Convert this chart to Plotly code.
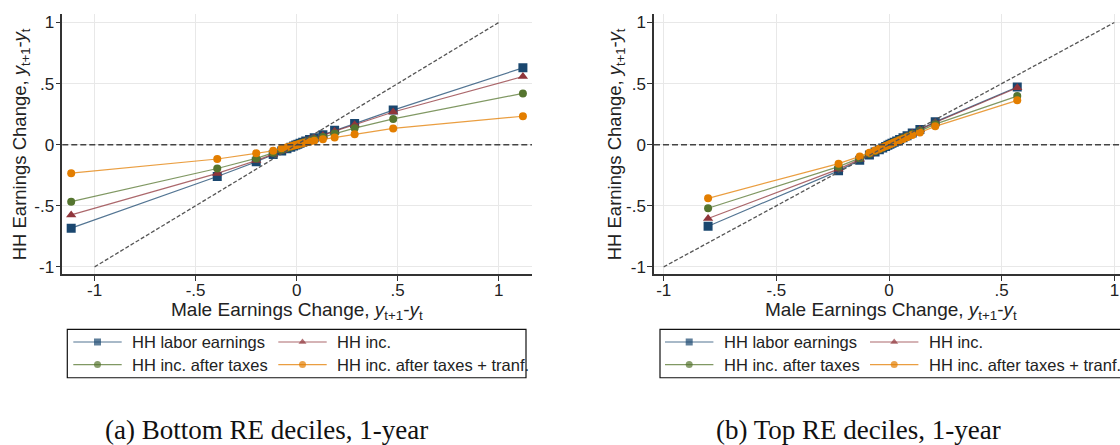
import plotly.graph_objects as go

W, H = 1120, 445

series_names = ["HH labor earnings", "HH inc.", "HH inc. after taxes", "HH inc. after taxes + tranf."]
series_colors = ["#1a476f", "#90353b", "#55752f", "#e37e00"]
series_lines = ["rgba(26,71,111,0.75)", "rgba(144,53,59,0.75)", "rgba(85,117,47,0.75)", "rgba(227,126,0,0.75)"]
series_symbols = ["square", "triangle-up", "circle", "circle"]
series_sizes = [9, 9, 8, 8]

# (a) Bottom RE deciles: binned male earnings change and household responses
male_change_bottom = [-1.116, -0.393, -0.200, -0.116, -0.074, -0.048, -0.029, -0.015, -0.004, 0.006,
                      0.017, 0.030, 0.045, 0.064, 0.087, 0.130, 0.188, 0.287, 0.478, 1.120]
labor_bottom = [-0.683, -0.260, -0.140, -0.080, -0.052, -0.034, -0.021, -0.011, -0.003, 0.004,
                0.012, 0.021, 0.031, 0.043, 0.056, 0.081, 0.119, 0.173, 0.283, 0.629]
inc_bottom = [-0.575, -0.235, -0.130, -0.076, -0.049, -0.032, -0.020, -0.010, -0.003, 0.004,
              0.011, 0.020, 0.029, 0.040, 0.053, 0.076, 0.111, 0.163, 0.268, 0.558]
tax_bottom = [-0.466, -0.195, -0.112, -0.066, -0.043, -0.028, -0.017, -0.009, -0.002, 0.003,
              0.009, 0.016, 0.024, 0.033, 0.044, 0.062, 0.091, 0.135, 0.211, 0.420]
transf_bottom = [-0.233, -0.117, -0.070, -0.050, -0.030, -0.020, -0.012, -0.006, -0.002, 0.002,
                 0.007, 0.012, 0.018, 0.025, 0.033, 0.044, 0.058, 0.085, 0.133, 0.233]

# (b) Top RE deciles
male_change_top = [-0.803, -0.224, -0.130, -0.087, -0.062, -0.043, -0.028, -0.015, -0.005, 0.004,
                   0.013, 0.023, 0.034, 0.047, 0.062, 0.080, 0.103, 0.137, 0.205, 0.569]
labor_top = [-0.667, -0.214, -0.128, -0.084, -0.059, -0.041, -0.027, -0.014, -0.005, 0.004,
             0.012, 0.021, 0.031, 0.043, 0.057, 0.074, 0.095, 0.125, 0.187, 0.472]
inc_top = [-0.604, -0.200, -0.120, -0.080, -0.057, -0.039, -0.026, -0.014, -0.005, 0.004,
           0.012, 0.021, 0.031, 0.043, 0.056, 0.072, 0.093, 0.122, 0.182, 0.466]
tax_top = [-0.520, -0.180, -0.110, -0.074, -0.053, -0.037, -0.024, -0.013, -0.004, 0.003,
           0.011, 0.019, 0.029, 0.040, 0.052, 0.068, 0.087, 0.115, 0.168, 0.398]
transf_top = [-0.439, -0.155, -0.096, -0.065, -0.047, -0.033, -0.021, -0.011, -0.004, 0.003,
              0.010, 0.017, 0.026, 0.036, 0.047, 0.061, 0.079, 0.100, 0.150, 0.363]

tick_vals = [-1, -0.5, 0, 0.5, 1]
tick_text = ["-1", "-.5", "0", ".5", "1"]
diag_x = [-1, 1]
diag_y = [-1, 1]

captions = ["(a) Bottom RE deciles, 1-year", "(b) Top RE deciles, 1-year"]
x_title = "Male Earnings Change, <i>y</i><sub>t+1</sub>-<i>y</i><sub>t</sub>"
y_title = "HH Earnings Change, <i>y</i><sub>t+1</sub>-<i>y</i><sub>t</sub>"

SANS = "Liberation Sans, Arial, sans-serif"
SERIF = "Liberation Serif, Times New Roman, serif"
TXT = "#222222"


def px_x(v):
    return v / W


def px_y(v):
    return 1 - v / H


panels = [
    dict(xa="x", ya="y", x=male_change_bottom,
         ys=[labor_bottom, inc_bottom, tax_bottom, transf_bottom],
         left=62.3, right=532.0, xrange=[-1.160, 1.165],
         ytitle_x=21, xtitle_x=297, caption_x=266,
         leg_box=(67.3, 526.0), leg_cols=(73.3, 278.3)),
    dict(xa="x2", ya="y2", x=male_change_top,
         ys=[labor_top, inc_top, tax_top, transf_top],
         left=654.0, right=1120.0, xrange=[-1.043, 1.025],
         ytitle_x=616, xtitle_x=891, caption_x=858,
         leg_box=(660.0, 1135.0), leg_cols=(665.0, 870.0)),
]

TOP, BOTTOM = 13.3, 275.3
YRANGE = [-1.062, 1.068]

fig = go.Figure()
shapes = []
annotations = []

for k, p in enumerate(panels):
    for i in range(4):
        fig.add_trace(go.Scatter(
            x=p["x"], y=p["ys"][i], mode="lines+markers",
            xaxis=p["xa"], yaxis=p["ya"], showlegend=False,
            line=dict(color=series_lines[i], width=1.2),
            marker=dict(symbol=series_symbols[i], size=series_sizes[i],
                        color=series_colors[i], line=dict(width=0)),
        ))
    # 45-degree reference line
    fig.add_trace(go.Scatter(
        x=diag_x, y=diag_y, mode="lines", xaxis=p["xa"], yaxis=p["ya"],
        showlegend=False, line=dict(color="#555555", width=1.3, dash="4px,2px"),
    ))
    # zero line across the whole plot area
    shapes.append(dict(type="line", xref=f"{p['xa']} domain", yref=p["ya"],
                       x0=0, x1=1, y0=0, y1=0,
                       line=dict(color="#444444", width=1.6, dash="6px,3px")))

    # axis titles
    annotations.append(dict(text=x_title, xref="paper", yref="paper",
                            x=px_x(p["xtitle_x"]), y=px_y(312.5), xanchor="center", yanchor="middle",
                            showarrow=False, font=dict(family=SANS, size=19, color=TXT)))
    annotations.append(dict(text=y_title, xref="paper", yref="paper", textangle=-90,
                            x=px_x(p["ytitle_x"]), y=px_y(144.3), xanchor="center", yanchor="middle",
                            showarrow=False, font=dict(family=SANS, size=18.5, color=TXT)))
    # caption
    annotations.append(dict(text=captions[k], xref="paper", yref="paper",
                            x=px_x(p["caption_x"]), y=px_y(432), xanchor="center", yanchor="middle",
                            showarrow=False, font=dict(family=SERIF, size=27, color="#111111")))

    # legend box
    lx0, lx1 = p["leg_box"]
    shapes.append(dict(type="rect", xref="paper", yref="paper",
                       x0=px_x(lx0), x1=px_x(lx1), y0=px_y(379.3), y1=px_y(330.7),
                       line=dict(color="#111111", width=1.2), fillcolor="rgba(0,0,0,0)"))
    rows = [343.3, 343.3, 366.0, 366.0]
    cols = [p["leg_cols"][0], p["leg_cols"][1], p["leg_cols"][0], p["leg_cols"][1]]
    for i in range(4):
        x0 = cols[i]
        x1 = x0 + 48.4
        fig.add_trace(go.Scatter(
            x=[x0, (x0 + x1) / 2, x1], y=[rows[i]] * 3, mode="lines+markers",
            xaxis="x3", yaxis="y3", showlegend=False, hoverinfo="skip",
            line=dict(color=series_lines[i], width=1.2),
            marker=dict(symbol=series_symbols[i], size=[0, 7, 0],
                        color=series_colors[i], line=dict(width=0)),
        ))
        annotations.append(dict(text=series_names[i], xref="paper", yref="paper",
                                x=px_x(x1 + 8.3), y=px_y(rows[i]), xanchor="left", yanchor="middle",
                                showarrow=False, font=dict(family=SANS, size=16.5, color=TXT)))

axis_common = dict(
    showgrid=True, gridcolor="#e8e8e8", gridwidth=1, zeroline=False,
    showline=True, linecolor="#333333", linewidth=1.5,
    ticks="outside", ticklen=5, tickwidth=1, tickcolor="#333333",
    tickvals=tick_vals, ticktext=tick_text,
    tickfont=dict(family=SANS, size=17, color=TXT),
    fixedrange=True,
)
xaxis_common = dict(axis_common, ticklabelstandoff=-6)
yaxis_common = dict(axis_common, ticklabelstandoff=-2)

ydom = [px_y(BOTTOM), px_y(TOP)]
fig.update_layout(
    width=W, height=H,
    margin=dict(l=0, r=0, t=0, b=0),
    paper_bgcolor="white", plot_bgcolor="rgba(0,0,0,0)",
    xaxis=dict(xaxis_common, domain=[px_x(panels[0]["left"]), px_x(panels[0]["right"])],
               range=panels[0]["xrange"], anchor="y"),
    yaxis=dict(yaxis_common, domain=ydom, range=YRANGE, anchor="x"),
    xaxis2=dict(xaxis_common, domain=[px_x(panels[1]["left"]), px_x(panels[1]["right"])],
                range=panels[1]["xrange"], anchor="y2"),
    yaxis2=dict(yaxis_common, domain=ydom, range=YRANGE, anchor="x2"),
    xaxis3=dict(domain=[0, 1], range=[0, W], visible=False, fixedrange=True, anchor="y3"),
    yaxis3=dict(domain=[0, 1], range=[H, 0], visible=False, fixedrange=True, anchor="x3"),
    shapes=shapes,
    annotations=annotations,
    showlegend=False,
)

fig.write_html("out.html")
